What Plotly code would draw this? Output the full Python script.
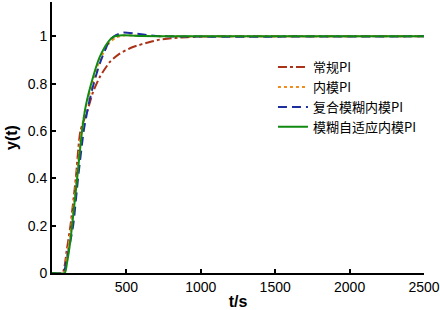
import plotly.graph_objects as go

# 常规PI
t_red = [0, 70, 100, 124, 160, 191, 240, 276, 321, 388, 455, 544, 657, 723, 800, 1000, 1500, 2500]
y_red = [0, 0, 0.1, 0.2, 0.4, 0.6, 0.69, 0.765, 0.828, 0.891, 0.927, 0.955, 0.976, 0.986, 0.992, 0.999, 1.0, 1.0]
# 内模PI
t_org = [0, 80, 100, 130, 165, 198, 230, 276, 321, 388, 430, 490, 600, 800, 2500]
y_org = [0, 0, 0.07, 0.2, 0.4, 0.6, 0.71, 0.81, 0.9, 0.975, 0.995, 1.004, 1.002, 1.0, 1.0]
# 复合模糊内模PI
t_blu = [0, 75, 100, 142, 175, 213, 249, 276, 321, 388, 430, 477, 567, 657, 750, 2500]
y_blu = [0, 0, 0.06, 0.2, 0.4, 0.6, 0.72, 0.79, 0.885, 0.983, 1.005, 1.016, 1.011, 1.004, 1.0, 1.0]
# 模糊自适应内模PI
t_grn = [0, 86, 100, 120, 135, 169, 202, 225, 276, 321, 377, 410, 477, 600, 800, 2500]
y_grn = [0, 0, 0.04, 0.12, 0.2, 0.4, 0.6, 0.7, 0.828, 0.913, 0.976, 0.997, 1.004, 1.001, 1.0, 1.0]

names = ["常规PI", "内模PI", "复合模糊内模PI", "模糊自适应内模PI"]
colors = ["#A93217", "#F08C1E", "#1F2E9E", "#118A11"]
dashes = ["dashdot", "dot", "9px,5px", "solid"]
x_ticks = [500, 1000, 1500, 2000, 2500]
y_ticks = [0, 0.2, 0.4, 0.6, 0.8, 1]

fig = go.Figure()
for t, y, n, c, d in zip([t_red, t_org, t_blu, t_grn], [y_red, y_org, y_blu, y_grn], names, colors, dashes):
    fig.add_trace(go.Scatter(x=t, y=y, name=n, mode="lines",
                             line=dict(color=c, width=2, dash=d, shape="spline", smoothing=0.6)))

fig.update_layout(
    width=440, height=310,
    margin=dict(l=52, r=16, t=2, b=37),
    paper_bgcolor="white", plot_bgcolor="white",
    font=dict(family="Liberation Sans, Arial, sans-serif", size=14, color="black"),
    showlegend=True,
    legend=dict(x=0.594, y=0.815, xanchor="left", yanchor="top",
                font=dict(family="Noto Sans CJK SC, Liberation Sans", size=13),
                bgcolor="rgba(0,0,0,0)", itemwidth=30, tracegroupgap=0),
)
fig.update_xaxes(range=[0, 2500], tickvals=x_ticks, ticktext=[str(v) for v in x_ticks],
                 ticks="inside", ticklen=4, tickwidth=1.5, tickcolor="black", automargin=False,
                 showline=True, linecolor="black", linewidth=2, showgrid=False, zeroline=False,
                 title=dict(text="<b>t/s</b>", font=dict(size=16), standoff=2))
fig.update_yaxes(range=[0, 1.145], tickvals=y_ticks, ticktext=["0", "0.2", "0.4", "0.6", "0.8", "1"],
                 ticks="inside", ticklen=4, tickwidth=1.5, tickcolor="black", automargin=False,
                 showline=True, linecolor="black", linewidth=2, showgrid=False, zeroline=False,
                 title=dict(text="<b>y(t)</b>", font=dict(size=16), standoff=6))

fig.write_html("out.html", config={"displayModeBar": False},
               post_script="document.body.style.margin='0';document.body.style.padding='0';")
